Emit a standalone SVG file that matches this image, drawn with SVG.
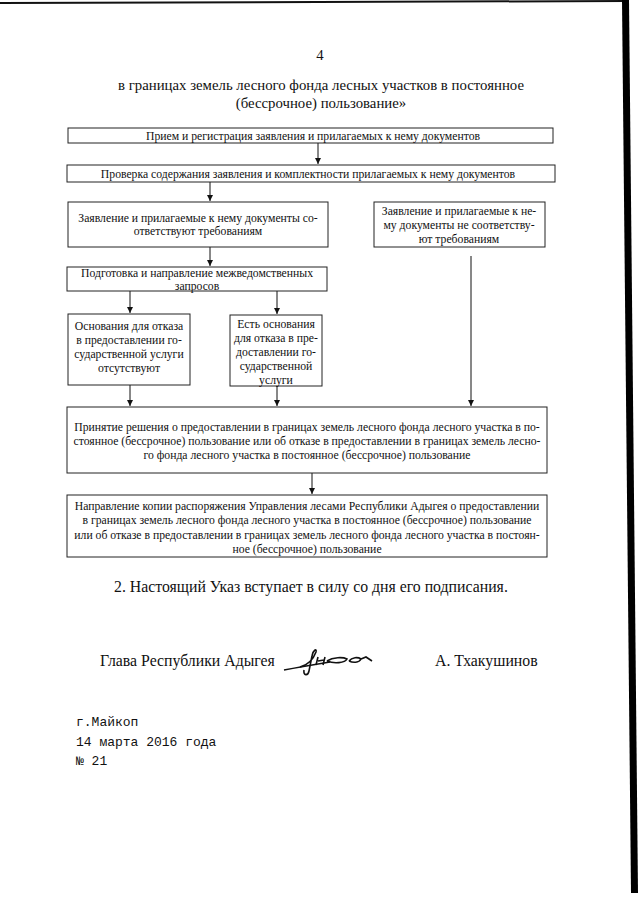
<svg xmlns="http://www.w3.org/2000/svg" width="640" height="905" viewBox="0 0 640 905">
<style>
.bx{fill:#fff;stroke:#222;stroke-width:1}
.t{font-family:"Liberation Serif",serif;font-size:11.7px;fill:#111;text-anchor:middle}
.h{font-family:"Liberation Serif",serif;font-size:14.8px;fill:#111;text-anchor:middle}
.p{font-family:"Liberation Serif",serif;font-size:15.8px;fill:#111}
.m{font-family:"Liberation Mono",monospace;font-size:13px;fill:#111}
.c{stroke:#111;stroke-width:1;fill:none}
</style>
<defs>
<marker id="ar" markerWidth="8" markerHeight="8" refX="6" refY="3" orient="auto" markerUnits="userSpaceOnUse">
<path d="M0,0 L6,3 L0,6 Z" fill="#111"/>
</marker>
</defs>
<rect width="640" height="905" fill="#fff"/>
<g id="page-border">
<line x1="0" y1="3" x2="626" y2="1" stroke="#111" stroke-width="2"/>
<polygon points="622,0 629,0 638,893 631,893" fill="#000"/>
</g>
<text class="h" x="320" y="60" font-size="13">4</text>
<text class="h" x="321" y="90">в границах земель лесного фонда лесных участков в постоянное</text>
<text class="h" x="321" y="108">(бессрочное) пользование»</text>

<g id="connectors">
<line class="c" x1="318" y1="143" x2="318" y2="164" marker-end="url(#ar)"/>
<line class="c" x1="210" y1="182" x2="210" y2="201" marker-end="url(#ar)"/>
<line class="c" x1="210" y1="247" x2="210" y2="266" marker-end="url(#ar)"/>
<line class="c" x1="130" y1="291" x2="130" y2="313" marker-end="url(#ar)"/>
<line class="c" x1="277" y1="291" x2="277" y2="314" marker-end="url(#ar)"/>
<line class="c" x1="471" y1="256" x2="471" y2="406" marker-end="url(#ar)"/>
<line class="c" x1="130" y1="385" x2="130" y2="406" marker-end="url(#ar)"/>
<line class="c" x1="277" y1="386" x2="277" y2="406" marker-end="url(#ar)"/>
<line class="c" x1="312" y1="473" x2="312" y2="494" marker-end="url(#ar)"/>
</g>

<g id="n1">
<rect class="bx" x="68" y="128" width="485" height="15"/>
<text class="t" x="313" y="139.5">Прием и регистрация заявления и прилагаемых к нему документов</text>
</g>
<g id="n2">
<rect class="bx" x="67" y="165" width="488" height="17"/>
<text class="t" x="308" y="177.5">Проверка содержания заявления и комплектности прилагаемых к нему документов</text>
</g>
<g id="n3">
<rect class="bx" x="68" y="202" width="260" height="45"/>
<text class="t" x="198" y="222">Заявление и прилагаемые к нему документы со-</text>
<text class="t" x="198" y="235">ответствуют требованиям</text>
</g>
<g id="n4">
<rect class="bx" x="374" y="202" width="171" height="45"/>
<text class="t" x="459" y="215">Заявление и прилагаемые к не-</text>
<text class="t" x="459" y="229">му документы не соответству-</text>
<text class="t" x="459" y="243">ют требованиям</text>
</g>
<g id="n5">
<rect class="bx" x="67" y="267" width="260" height="24"/>
<text class="t" x="197" y="276.5" font-size="11.2">Подготовка и направление межведомственных</text>
<text class="t" x="197" y="289.5" font-size="11.2">запросов</text>
</g>
<g id="n6">
<rect class="bx" x="68" y="314" width="122" height="71"/>
<text class="t" x="129" y="330">Основания для отказа</text>
<text class="t" x="129" y="344">в предоставлении го-</text>
<text class="t" x="129" y="358">сударственной услуги</text>
<text class="t" x="129" y="372">отсутствуют</text>
</g>
<g id="n7">
<rect class="bx" x="230" y="315" width="92" height="71"/>
<text class="t" x="276" y="328">Есть основания</text>
<text class="t" x="276" y="342">для отказа в пре-</text>
<text class="t" x="276" y="356">доставлении го-</text>
<text class="t" x="276" y="370">сударственной</text>
<text class="t" x="276" y="384">услуги</text>
</g>
<g id="n8">
<rect class="bx" x="67" y="407" width="480" height="66"/>
<text class="t" x="307" y="431">Принятие решения о предоставлении в границах земель лесного фонда лесного участка в по-</text>
<text class="t" x="307" y="445">стоянное (бессрочное) пользование или об отказе в предоставлении в границах земель лесно-</text>
<text class="t" x="307" y="459">го фонда лесного участка в постоянное (бессрочное) пользование</text>
</g>
<g id="n9">
<rect class="bx" x="67" y="495" width="480" height="62"/>
<text class="t" x="307" y="510">Направление копии распоряжения Управления лесами Республики Адыгея о предоставлении</text>
<text class="t" x="307" y="524">в границах земель лесного фонда лесного участка в постоянное (бессрочное) пользование</text>
<text class="t" x="307" y="539">или об отказе в предоставлении в границах земель лесного фонда лесного участка в постоян-</text>
<text class="t" x="307" y="553">ное (бессрочное) пользование</text>
</g>

<text class="p" x="114" y="592">2. Настоящий Указ вступает в силу со дня его подписания.</text>
<text class="p" x="100" y="666" font-size="13.5">Глава Республики Адыгея</text>
<text class="p" x="435" y="666" font-size="15">А. Тхакушинов</text>
<g id="signature" fill="none" stroke="#111" stroke-width="1.6">
<path d="M284,670 C300,667 318,664 330,662"/>
<path d="M300,667 C308,665 313,660 316,652 C317,648 313,650 312,656 L309,671 C308,676 303,676 304,670"/>
<path d="M316,665 L318,657 M318,661 L324,660 M323,665 L325,657"/>
<path d="M327,661 C333,657 343,657 347,659 C345,663 334,664 327,661"/>
<path d="M349,661 C352,657 358,657 361,659 C359,663 353,663 349,661 M361,659 L366,657 L372,661"/>
</g>
<text class="m" x="76" y="726">г.Майкоп</text>
<text class="m" x="76" y="746">14 марта 2016 года</text>
<text class="m" x="76" y="765">№ 21</text>
</svg>
